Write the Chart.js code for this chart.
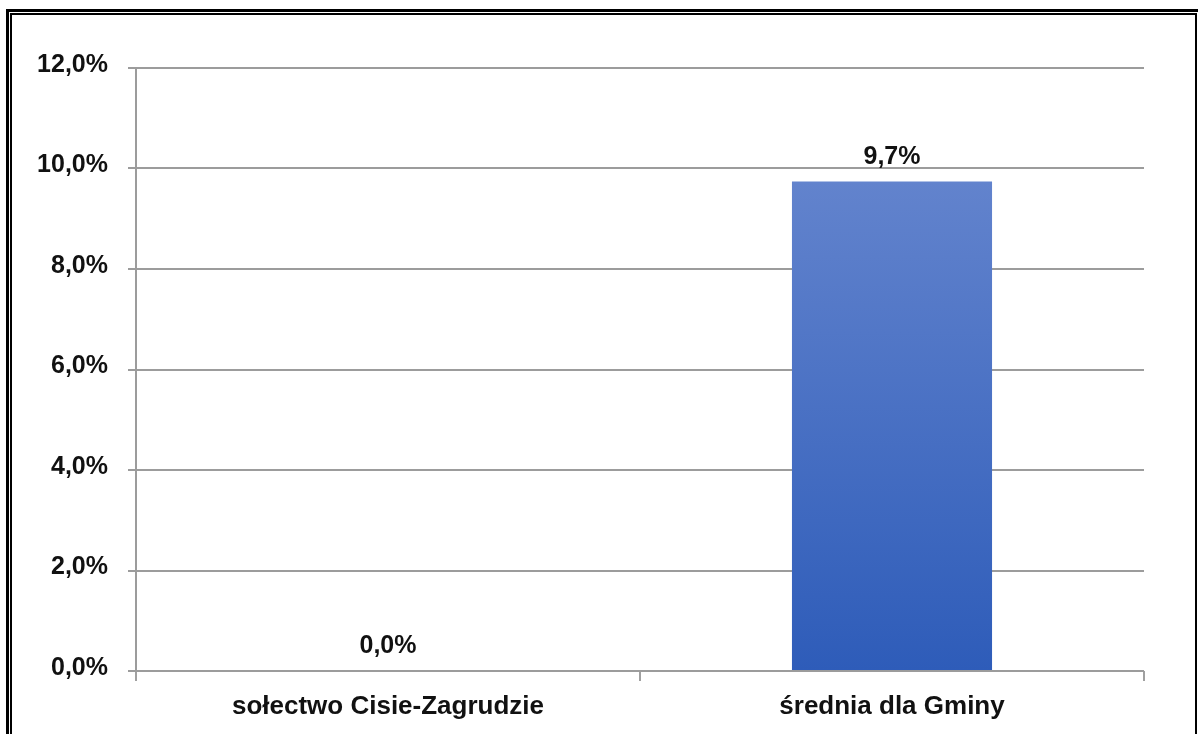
<!DOCTYPE html>
<html>
<head>
<meta charset="utf-8">
<script src="https://cdn.jsdelivr.net/npm/chart.js@4/dist/chart.umd.min.js"></script>
<style>
  html, body { margin: 0; padding: 0; background: #fff; overflow: hidden; }
  #wrap { position: relative; width: 1198px; height: 734px; overflow: hidden; }
  #c { position: absolute; left: 0; top: 0; }
  .frameOuter { position: absolute; left: 6px; top: 9px; width: 1200px; height: 740px; border: 3px solid #000; box-sizing: border-box; }
  .frameInner { position: absolute; left: 10px; top: 13px; width: 1187px; height: 740px; border: 2px solid #000; box-sizing: border-box; }
</style>
</head>
<body>
<div id="wrap">
  <canvas id="c" width="1198" height="734"></canvas>
  <div class="frameOuter"></div>
  <div class="frameInner"></div>
</div>
<script>
const categories = ['sołectwo Cisie-Zagrudzie', 'średnia dla Gminy'];
const values = [0.0, 9.74];
const yTicks = [0, 2, 4, 6, 8, 10, 12];

const FONT = { family: '"Liberation Sans", Arial, sans-serif', size: 25, weight: 'bold' };
const XFONT = { family: '"Liberation Sans", Arial, sans-serif', size: 26, weight: 'bold' };
const fmt = v => v.toFixed(1).replace('.', ',') + '%';

const dataLabels = {
  id: 'dataLabels',
  afterDatasetsDraw(chart) {
    const ctx = chart.ctx;
    const meta = chart.getDatasetMeta(0);
    ctx.save();
    ctx.font = 'bold 25px "Liberation Sans", Arial, sans-serif';
    ctx.fillStyle = '#111';
    ctx.textAlign = 'center';
    ctx.textBaseline = 'alphabetic';
    meta.data.forEach((bar, i) => {
      ctx.fillText(fmt(values[i]), bar.x, bar.y - 18);
    });
    ctx.restore();
  }
};

new Chart(document.getElementById('c'), {
  type: 'bar',
  data: {
    labels: categories,
    datasets: [{
      data: values,
      backgroundColor: (context) => {
        const chart = context.chart;
        const area = chart.chartArea;
        if (!area) return '#4a74c8';
        const y = chart.scales.y;
        const top = y.getPixelForValue(Math.max(...values));
        const bottom = y.getPixelForValue(0);
        const g = chart.ctx.createLinearGradient(0, top, 0, bottom);
        g.addColorStop(0, 'rgb(98,131,205)');
        g.addColorStop(1, 'rgb(46,92,185)');
        return g;
      },
      borderWidth: 0,
      barPercentage: 0.397,
      categoryPercentage: 1.0
    }]
  },
  options: {
    responsive: false,
    animation: false,
    devicePixelRatio: 1,
    layout: { padding: { left: 0, right: 54, top: 68, bottom: 0 } },
    plugins: { legend: { display: false }, tooltip: { enabled: false } },
    scales: {
      x: {
        grid: { display: true, drawOnChartArea: false, drawTicks: true, tickLength: 10, color: '#a0a0a0', lineWidth: 2, offset: true },
        border: { display: false },
        ticks: { color: '#111', font: XFONT, padding: 10, maxRotation: 0, autoSkip: false },
        afterFit(scale) { scale.height = 63; }
      },
      y: {
        min: 0,
        max: 12,
        afterBuildTicks(scale) { scale.ticks = yTicks.map(v => ({ value: v })); },
        grid: { color: '#9c9c9c', lineWidth: 2, drawTicks: true, tickLength: 8 },
        border: { display: true, color: '#9c9c9c', width: 2 },
        ticks: { color: '#111', font: FONT, padding: 20, labelOffset: -3, callback: (v) => fmt(v) },
        afterFit(scale) { scale.width = 136; }
      }
    }
  },
  plugins: [dataLabels]
});
</script>
</body>
</html>
